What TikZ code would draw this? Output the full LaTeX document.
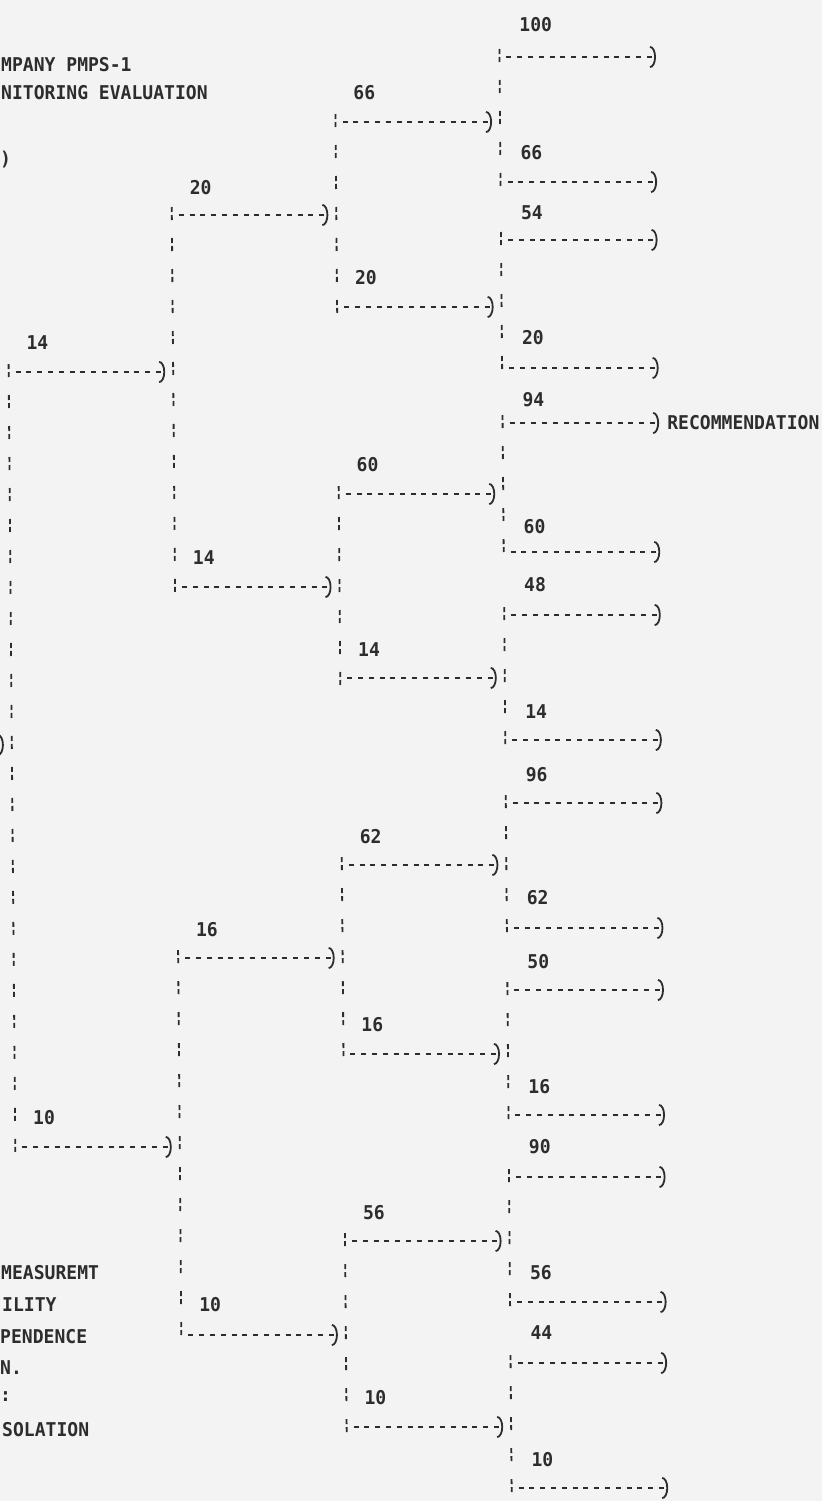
\documentclass[tikz,border=0pt]{standalone}
\usepackage{fontspec}
\newfontfamily\dotfont{DejaVu Sans Mono}[FakeStretch=0.95]
\usetikzlibrary{arrows.meta,decorations.markings}
\definecolor{ink}{RGB}{45,45,45}
\definecolor{paper}{RGB}{243,243,243}
\begin{document}
\begin{tikzpicture}[x=1pt,y=-1pt,
  hline/.style={draw=ink, line width=2.8pt, dash pattern=on 5pt off 5.8pt,
    shorten <=7pt, shorten >=12pt,
    postaction={decorate, decoration={markings,
      mark=at position -8pt with {\pgfsetdash{}{0pt}\pgfsetlinewidth{1.8pt}%
        \arrow[ink]{Arc Barb[length=6pt,width=22pt]}}}}},
  vline/.style={draw=ink, line width=1.8pt, dash pattern=on 5pt off 3pt on 5pt off 18pt,
    shorten <=-8pt, shorten >=-8pt},
  lab/.style={anchor=west, inner sep=0pt, text=ink, font=\dotfont\bfseries\fontsize{19}{19}\selectfont}]
\fill[paper] (0,0) rectangle (822,1501);
\useasboundingbox (0,0) rectangle (822,1501);

% texts at the left edge
\node[lab] (t1) at (1,65) {MPANY PMPS-1};
\node[lab] (t2) at (1,93) {NITORING EVALUATION};
\node[lab] (t3) at (0,160) {)};
\node[lab] (t4) at (1,1273) {MEASUREMT};
\node[lab] (t5) at (2,1305) {ILITY};
\node[lab] (t6) at (0,1337) {PENDENCE};
\node[lab] (t7) at (0,1368) {N.};
\node[lab] (t8) at (0,1397) {:};
\node[lab] (t9) at (2,1430) {SOLATION};

\begin{scope}[xslant=-0.0085]
% ---------- column positions: A=5.5, B=170, C=334.5, D=499
\coordinate (root) at (-160,745);
\coordinate (j0) at (5.5,745);
% column 0 branches
\coordinate (a1) at (5.5,372);  \coordinate (a2) at (5.5,1147);
\node[lab] (la1) at (23.5,343) {14};
\node[lab] (la2) at (23.5,1118) {10};
% column 1 junctions and branches
\coordinate (jb1) at (170,372);  \coordinate (jb2) at (170,1147);
\coordinate (b1) at (170,215);  \coordinate (b2) at (170,587);
\coordinate (b3) at (170,958);  \coordinate (b4) at (170,1335);
\node[lab] (lb1) at (188,188) {20};
\node[lab] (lb2) at (188,558) {14};
\node[lab] (lb3) at (188,930) {16};
\node[lab] (lb4) at (188,1305) {10};
% column 2 junctions and branches
\coordinate (jc1) at (334.5,215);  \coordinate (jc2) at (334.5,587);
\coordinate (jc3) at (334.5,958);  \coordinate (jc4) at (334.5,1335);
\coordinate (c1) at (334.5,122);  \coordinate (c2) at (334.5,307);
\coordinate (c3) at (334.5,494);  \coordinate (c4) at (334.5,678);
\coordinate (c5) at (334.5,865);  \coordinate (c6) at (334.5,1054);
\coordinate (c7) at (334.5,1241); \coordinate (c8) at (334.5,1427);
\node[lab] (lc1) at (352.5,93) {66};
\node[lab] (lc2) at (352.5,278) {20};
\node[lab] (lc3) at (352.5,465) {60};
\node[lab] (lc4) at (352.5,650) {14};
\node[lab] (lc5) at (352.5,837) {62};
\node[lab] (lc6) at (352.5,1025) {16};
\node[lab] (lc7) at (352.5,1213) {56};
\node[lab] (lc8) at (352.5,1398) {10};
% column 3 junctions and branches
\coordinate (jd1) at (499,122);  \coordinate (jd2) at (499,307);
\coordinate (jd3) at (499,494);  \coordinate (jd4) at (499,678);
\coordinate (jd5) at (499,865);  \coordinate (jd6) at (499,1054);
\coordinate (jd7) at (499,1241); \coordinate (jd8) at (499,1427);
\coordinate (d1) at (499,57);    \coordinate (d2) at (499,182);
\coordinate (d3) at (499,240);   \coordinate (d4) at (499,368);
\coordinate (d5) at (499,423);   \coordinate (d6) at (499,552);
\coordinate (d7) at (499,615);   \coordinate (d8) at (499,740);
\coordinate (d9) at (499,803);   \coordinate (d10) at (499,928);
\coordinate (d11) at (499,990);  \coordinate (d12) at (499,1115);
\coordinate (d13) at (499,1177); \coordinate (d14) at (499,1302);
\coordinate (d15) at (499,1363); \coordinate (d16) at (499,1488);
\node[lab] (ld1) at (519,25) {100};
\node[lab] (ld2) at (519,153) {66};
\node[lab] (ld3) at (519,213) {54};
\node[lab] (ld4) at (519,338) {20};
\node[lab] (ld5) at (519,400) {94};
\node[lab] (ld6) at (519,527) {60};
\node[lab] (ld7) at (519,585) {48};
\node[lab] (ld8) at (519,712) {14};
\node[lab] (ld9) at (519,775) {96};
\node[lab] (ld10) at (519,898) {62};
\node[lab] (ld11) at (519,962) {50};
\node[lab] (ld12) at (519,1087) {16};
\node[lab] (ld13) at (519,1147) {90};
\node[lab] (ld14) at (519,1273) {56};
\node[lab] (ld15) at (519,1333) {44};
\node[lab] (ld16) at (519,1460) {10};
% terminal ends
\coordinate (e1) at (663.5,57);    \coordinate (e2) at (663.5,182);
\coordinate (e3) at (663.5,240);   \coordinate (e4) at (663.5,368);
\node[lab] (rec) at (663.5,423) {RECOMMENDATION};
\coordinate (e6) at (663.5,552);
\coordinate (e7) at (663.5,615);   \coordinate (e8) at (663.5,740);
\coordinate (e9) at (663.5,803);   \coordinate (e10) at (663.5,928);
\coordinate (e11) at (663.5,990);  \coordinate (e12) at (663.5,1115);
\coordinate (e13) at (663.5,1177); \coordinate (e14) at (663.5,1302);
\coordinate (e15) at (663.5,1363); \coordinate (e16) at (663.5,1488);

% ---------- connectors
\draw[hline] (root) -- (j0);
\draw[vline] (a1) -- (a2);
\draw[hline] (a1) -- (jb1);
\draw[hline] (a2) -- (jb2);
\draw[vline] (b1) -- (b2);
\draw[vline] (b3) -- (b4);
\draw[hline] (b1) -- (jc1);
\draw[hline] (b2) -- (jc2);
\draw[hline] (b3) -- (jc3);
\draw[hline] (b4) -- (jc4);
\draw[vline] (c1) -- (c2);
\draw[vline] (c3) -- (c4);
\draw[vline] (c5) -- (c6);
\draw[vline] (c7) -- (c8);
\draw[hline] (c1) -- (jd1);
\draw[hline] (c2) -- (jd2);
\draw[hline] (c3) -- (jd3);
\draw[hline] (c4) -- (jd4);
\draw[hline] (c5) -- (jd5);
\draw[hline] (c6) -- (jd6);
\draw[hline] (c7) -- (jd7);
\draw[hline] (c8) -- (jd8);
\draw[vline] (d1) -- (d2);
\draw[vline] (d3) -- (d4);
\draw[vline] (d5) -- (d6);
\draw[vline] (d7) -- (d8);
\draw[vline] (d9) -- (d10);
\draw[vline] (d11) -- (d12);
\draw[vline] (d13) -- (d14);
\draw[vline] (d15) -- (d16);
\draw[hline] (d1) -- (e1);
\draw[hline] (d2) -- (e2);
\draw[hline] (d3) -- (e3);
\draw[hline] (d4) -- (e4);
\draw[hline] (d5) -- (rec.west);
\draw[hline] (d6) -- (e6);
\draw[hline] (d7) -- (e7);
\draw[hline] (d8) -- (e8);
\draw[hline] (d9) -- (e9);
\draw[hline] (d10) -- (e10);
\draw[hline] (d11) -- (e11);
\draw[hline] (d12) -- (e12);
\draw[hline] (d13) -- (e13);
\draw[hline] (d14) -- (e14);
\draw[hline] (d15) -- (e15);
\draw[hline] (d16) -- (e16);
\end{scope}
\end{tikzpicture}
\end{document}
